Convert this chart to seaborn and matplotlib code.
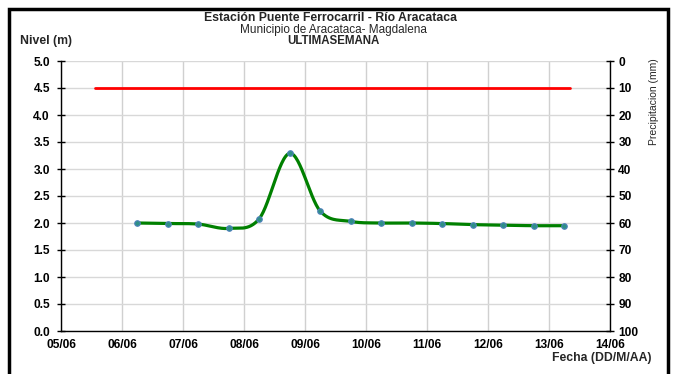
import numpy as np
import pandas as pd
import matplotlib
matplotlib.use("Agg")
import matplotlib.pyplot as plt
import seaborn as sns
from matplotlib.lines import Line2D

# ---- data ----
day_labels = ["05/06", "06/06", "07/06", "08/06", "09/06", "10/06", "11/06", "12/06", "13/06", "14/06"]
# measurement times in days after 05/06 00:00
obs_days = [1.25, 1.75, 2.25, 2.75, 3.25, 3.75, 4.25, 4.75, 5.25, 5.75, 6.25, 6.75, 7.25, 7.75, 8.25]
nivel = [2.00, 1.99, 1.98, 1.90, 2.08, 3.29, 2.22, 2.03, 2.00, 2.00, 1.99, 1.97, 1.96, 1.95, 1.95]
alerta_days = [0.56, 8.34]
alerta_nivel = [4.5, 4.5]
precip_ticks = [0, 10, 20, 30, 40, 50, 60, 70, 80, 90, 100]
nivel_ticks = [0.0, 0.5, 1.0, 1.5, 2.0, 2.5, 3.0, 3.5, 4.0, 4.5, 5.0]

# ---- smooth (Excel-like Bezier) rendering of the measured line ----
def smooth_curve(x, y, n=30):
    x = np.asarray(x, float); y = np.asarray(y, float)
    px, py = [], []
    for i in range(len(x) - 1):
        x0, y0 = (x[i - 1], y[i - 1]) if i > 0 else (x[i], y[i])
        x3, y3 = (x[i + 2], y[i + 2]) if i + 2 < len(x) else (x[i + 1], y[i + 1])
        x1, y1, x2, y2 = x[i], y[i], x[i + 1], y[i + 1]
        c1x = x1 + (x2 - x0) / 6; c1y = y1 + (y2 - y0) / 6
        c2x = x2 - (x3 - x1) / 6; c2y = y2 - (y3 - y1) / 6
        t = np.linspace(0, 1, n, endpoint=(i == len(x) - 2))
        b0 = (1 - t) ** 3; b1 = 3 * t * (1 - t) ** 2; b2 = 3 * t ** 2 * (1 - t); b3 = t ** 3
        px.extend(b0 * x1 + b1 * c1x + b2 * c2x + b3 * x2)
        py.extend(b0 * y1 + b1 * c1y + b2 * c2y + b3 * y2)
    return np.array(px), np.array(py)

sx, sy = smooth_curve(obs_days, nivel)
df_obs = pd.DataFrame({"dia": obs_days, "nivel": nivel})
df_smooth = pd.DataFrame({"dia": sx, "nivel": sy})
df_alerta = pd.DataFrame({"dia": alerta_days, "nivel": alerta_nivel})

sns.set_theme(style="white")
plt.rcParams["font.family"] = ["Liberation Sans", "DejaVu Sans"]

fig = plt.figure(figsize=(6.77, 3.74), dpi=100)
ax = fig.add_axes([61 / 677, 1 - 331 / 374, (610 - 61) / 677, (331 - 61) / 374])

# grid
for d in range(len(day_labels)):
    ax.axvline(d, color="#d0d0d0", lw=1, zorder=0)
for v in nivel_ticks:
    ax.axhline(v, color="#d8d8d8", lw=1, zorder=0)

sns.lineplot(data=df_alerta, x="dia", y="nivel", ax=ax, color="#ff0000", lw=2, zorder=3)
sns.lineplot(data=df_smooth, x="dia", y="nivel", ax=ax, color="#008000", lw=2.3, sort=False, zorder=3)
sns.scatterplot(data=df_obs, x="dia", y="nivel", ax=ax, color="#2e8f86", edgecolor="#4f81bd",
                linewidth=0.8, s=16, zorder=4)

TICK_FS = 8.6
ax.set_xlim(0, len(day_labels) - 1)
ax.set_ylim(0, 5)
ax.set_xticks(range(len(day_labels)))
ax.set_xticklabels(day_labels)
ax.set_yticks(nivel_ticks)
ax.set_yticklabels([f"{v:.1f}" for v in nivel_ticks])
ax.set_xlabel(""); ax.set_ylabel("")
for s in ["top", "right"]:
    ax.spines[s].set_visible(False)
for s in ["left", "bottom"]:
    ax.spines[s].set_color("black"); ax.spines[s].set_linewidth(1)
ax.tick_params(axis="both", direction="inout", length=6, width=1, colors="black", labelsize=TICK_FS)
ax.tick_params(axis="x", pad=3)
ax.tick_params(axis="y", pad=5)
for lbl in ax.get_xticklabels() + ax.get_yticklabels():
    lbl.set_fontweight("bold")

ax2 = ax.twinx()
ax2.set_ylim(100, 0)
ax2.set_yticks(precip_ticks)
ax2.set_yticklabels([str(v) for v in precip_ticks])
for s in ["top", "left", "bottom"]:
    ax2.spines[s].set_visible(False)
ax2.spines["right"].set_color("black"); ax2.spines["right"].set_linewidth(1)
ax2.tick_params(axis="y", direction="inout", length=6, width=1, colors="black", labelsize=TICK_FS, pad=3)
for lbl in ax2.get_yticklabels():
    lbl.set_fontweight("bold")
ax2.grid(False)

# texts
fig.text(331 / 677, 1 - 18 / 374, "Estación Puente Ferrocarril - Río Aracataca", ha="center", va="center",
         fontsize=8.8, fontweight="bold")
fig.text(333 / 677, 1 - 29.5 / 374, "Municipio de Aracataca- Magdalena", ha="center", va="center", fontsize=8.5)
fig.text(333 / 677, 1 - 40.5 / 374, "ULTIMASEMANA", ha="center", va="center", fontsize=8.3, fontweight="bold")
fig.text(20 / 677, 1 - 41 / 374, "Nivel (m)", ha="left", va="center", fontsize=8.8, fontweight="bold")
fig.text(651 / 677, 1 - 358 / 374, "Fecha (DD/M/AA)", ha="right", va="center", fontsize=8.8, fontweight="bold")
fig.text(654 / 677, 1 - 102 / 374, "Precipitacion (mm)", ha="center", va="center", fontsize=7.5, rotation=90)

# outer frame (open at the bottom)
fx0, fx1, fy = 8.5 / 677, 668 / 677, 1 - 9 / 374
fig.lines.append(Line2D([fx0, fx0, fx1, fx1], [-0.1, fy, fy, -0.1], transform=fig.transFigure,
                        color="black", lw=2.5, solid_joinstyle="miter"))

fig.savefig("out.png", dpi=100)
